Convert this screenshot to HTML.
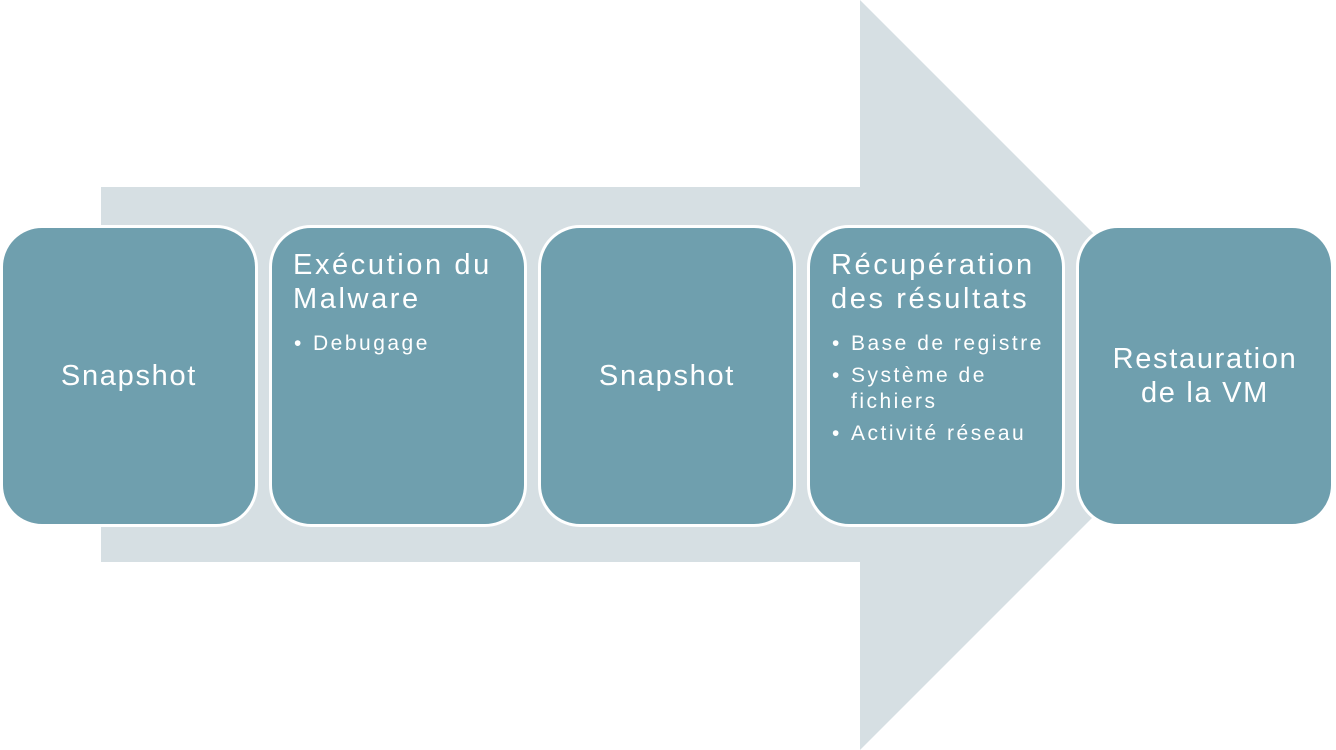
<!DOCTYPE html>
<html><head><meta charset="utf-8"><style>
body{margin:0;width:1336px;height:750px;background:#fff;position:relative;overflow:hidden;font-family:"Liberation Sans",sans-serif;}
.box{position:absolute;top:225px;width:252px;height:296px;background:#6f9fae;border:3px solid #fff;border-radius:42px;color:#fff;box-sizing:content-box;}
.c{display:flex;align-items:center;justify-content:center;text-align:center;font-size:29px;line-height:34px;letter-spacing:1.7px;}
.t{position:absolute;left:21px;top:20px;font-size:29px;line-height:34px;letter-spacing:2.6px;white-space:nowrap;}
ul{margin:0;padding:0;list-style:none;position:absolute;left:22px;font-size:21px;line-height:26px;letter-spacing:2.5px;white-space:nowrap;}
li{position:relative;padding-left:19px;margin-bottom:6px;}
li:before{content:"•";position:absolute;left:0;}
</style></head><body>
<svg width="1336" height="750" style="position:absolute;left:0;top:0">
<polygon points="101,187 860,187 860,0 1235,375 860,750 860,562 101,562" fill="#d6dfe3"/>
</svg>
<div class="box c" style="left:0px">Snapshot</div>
<div class="box" style="left:269px"><div class="t">Exécution du<br>Malware</div>
<ul style="top:103px"><li>Debugage</li></ul></div>
<div class="box c" style="left:538px">Snapshot</div>
<div class="box" style="left:807px"><div class="t">Récupération<br>des résultats</div>
<ul style="top:103px"><li>Base de registre</li><li>Système de<br>fichiers</li><li>Activité réseau</li></ul></div>
<div class="box c" style="left:1076px">Restauration<br>de la VM</div>
</body></html>
